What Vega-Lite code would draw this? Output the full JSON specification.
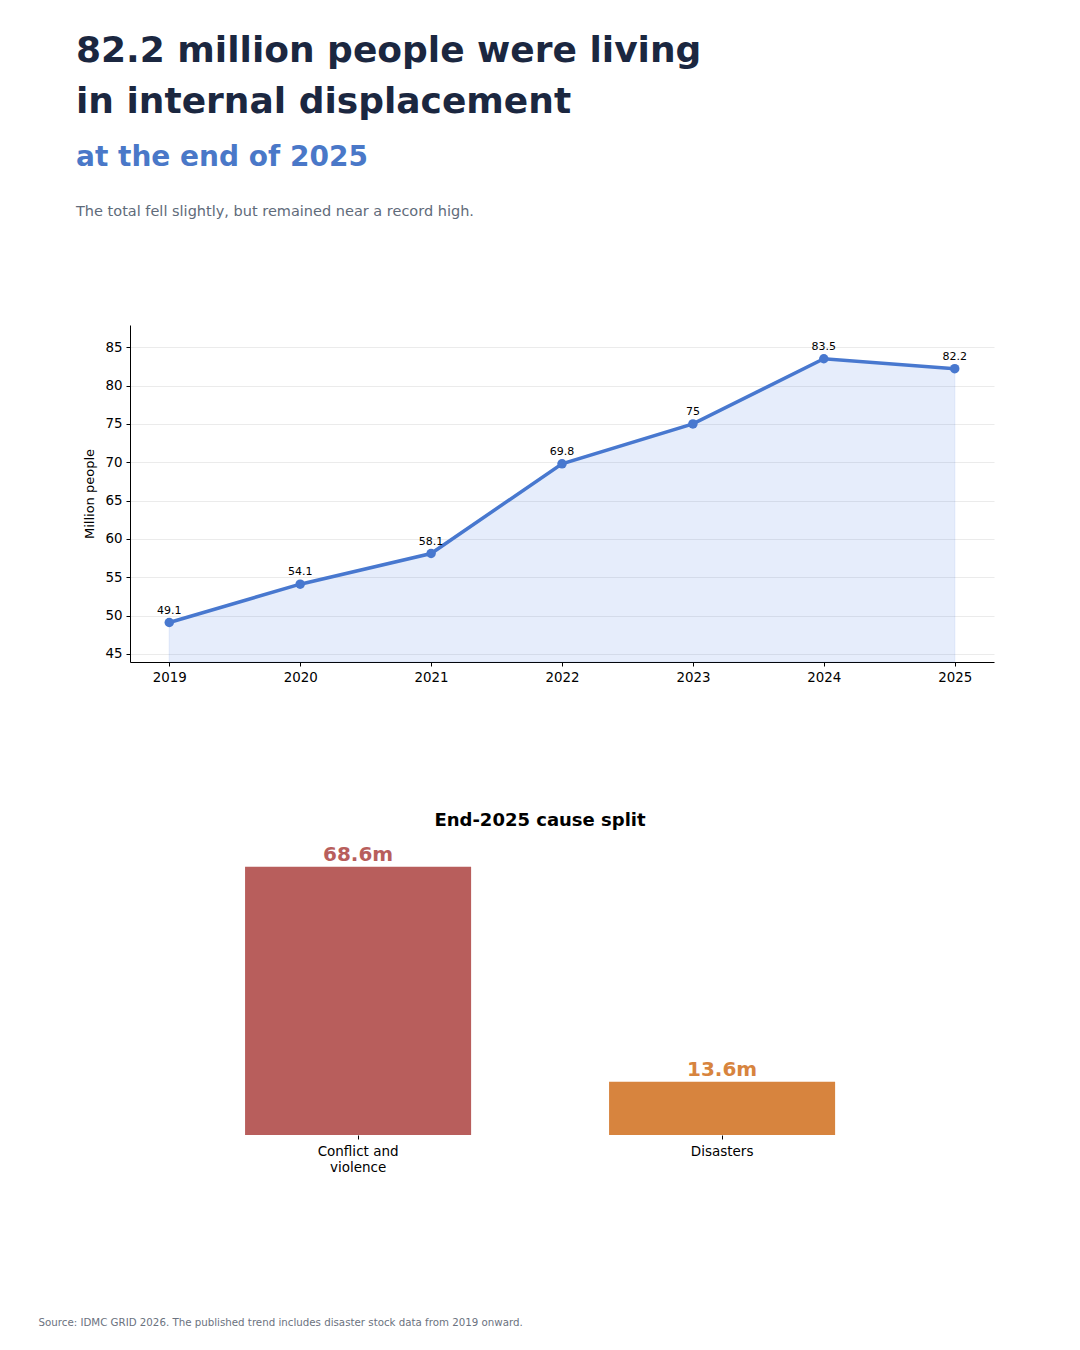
{
  "$schema": "https://vega.github.io/schema/vega-lite/v6.json",
  "background": "white",
  "padding": {"left": 38, "top": 32, "right": 10, "bottom": 20},
  "title": {
    "text": ["82.2 million people were living", "in internal displacement"],
    "subtitle": "at the end of 2025",
    "anchor": "start",
    "frame": "group",
    "dx": -54,
    "font": "DejaVu Sans",
    "fontSize": 36,
    "fontWeight": "bold",
    "color": "#1b2740",
    "lineHeight": 51,
    "subtitleFont": "DejaVu Sans",
    "subtitleFontSize": 28,
    "subtitleFontWeight": "bold",
    "subtitleColor": "#4a78c8",
    "subtitlePadding": 23,
    "offset": 31
  },
  "spacing": 128,
  "vconcat": [
    {
      "width": 864,
      "height": 337,
      "title": {
        "text": "The total fell slightly, but remained near a record high.",
        "anchor": "start",
        "frame": "group",
        "dx": -54,
        "offset": 106,
        "font": "DejaVu Sans",
        "fontSize": 14.5,
        "fontWeight": "normal",
        "color": "#5f6b7a"
      },
      "data": {
        "values": [
          {"year": 2019, "value": 49.1},
          {"year": 2020, "value": 54.1},
          {"year": 2021, "value": 58.1},
          {"year": 2022, "value": 69.8},
          {"year": 2023, "value": 75.0},
          {"year": 2024, "value": 83.5},
          {"year": 2025, "value": 82.2}
        ]
      },
      "encoding": {
        "x": {
          "field": "year",
          "type": "quantitative",
          "scale": {"domain": [2018.7, 2025.3], "nice": false, "zero": false},
          "axis": {
            "title": null,
            "values": [2019, 2020, 2021, 2022, 2023, 2024, 2025],
            "format": "d",
            "grid": false,
            "domainColor": "black",
            "tickColor": "black",
            "tickSize": 4,
            "labelFont": "DejaVu Sans",
            "labelFontSize": 13.4,
            "labelColor": "black",
            "labelPadding": 4
          }
        },
        "y": {
          "field": "value",
          "type": "quantitative",
          "scale": {"domain": [43.95, 87.9], "nice": false, "zero": false},
          "axis": {
            "title": "Million people",
            "titleFont": "DejaVu Sans",
            "titleFontSize": 13,
            "titleFontWeight": "normal",
            "titleColor": "black",
            "titlePadding": 8,
            "values": [45, 50, 55, 60, 65, 70, 75, 80, 85],
            "grid": true,
            "gridColor": "#ebebeb",
            "domainColor": "black",
            "tickColor": "black",
            "tickSize": 4,
            "labelFont": "DejaVu Sans",
            "labelFontSize": 13.4,
            "labelColor": "black",
            "labelPadding": 4
          }
        }
      },
      "layer": [
        {
          "mark": {
            "type": "area",
            "fill": "#2f69de",
            "fillOpacity": 0.12,
            "stroke": "#2f69de",
            "strokeOpacity": 0.08,
            "strokeWidth": 1.5
          },
          "encoding": {"y2": {"datum": 43.95}}
        },
        {
          "mark": {"type": "line", "color": "#4878cf", "strokeWidth": 3.5}
        },
        {
          "mark": {"type": "circle", "color": "#4878cf", "opacity": 1, "size": 90}
        },
        {
          "mark": {
            "type": "text",
            "font": "DejaVu Sans",
            "fontSize": 11,
            "color": "black",
            "baseline": "alphabetic",
            "dy": -9
          },
          "encoding": {"text": {"field": "value", "type": "quantitative", "format": "~r"}}
        }
      ]
    },
    {
      "width": 864,
      "height": 295,
      "title": {
        "text": "End-2025 cause split",
        "anchor": "middle",
        "dx": -22,
        "offset": 10,
        "font": "DejaVu Sans",
        "fontSize": 18,
        "fontWeight": "bold",
        "color": "black"
      },
      "data": {
        "values": [
          {"cause": "Conflict and violence", "value": 68.6, "label": "68.6m"},
          {"cause": "Disasters", "value": 13.6, "label": "13.6m"}
        ]
      },
      "encoding": {
        "x": {
          "field": "cause",
          "type": "nominal",
          "sort": null,
          "scale": {"paddingInner": 0.379, "paddingOuter": 0.3763, "align": 0.42},
          "axis": {
            "title": "Source: IDMC GRID 2026. The published trend includes disaster stock data from 2019 onward.",
            "titleX": -92,
            "titleY": 190,
            "titleAlign": "left",
            "titleAnchor": "start",
            "titleBaseline": "alphabetic",
            "titleFont": "DejaVu Sans",
            "titleFontSize": 10.25,
            "titleFontWeight": "normal",
            "titleColor": "#6b7280",
            "domain": false,
            "tickColor": "black",
            "tickSize": 4,
            "labelAngle": 0,
            "labelFont": "DejaVu Sans",
            "labelFontSize": 13.5,
            "labelColor": "black",
            "labelPadding": 5,
            "labelLineHeight": 16,
            "labelExpr": "datum.label == 'Conflict and violence' ? ['Conflict and', 'violence'] : datum.label"
          }
        },
        "y": {
          "field": "value",
          "type": "quantitative",
          "scale": {"domain": [0, 75.46], "nice": false},
          "axis": null
        },
        "color": {
          "field": "cause",
          "type": "nominal",
          "scale": {"domain": ["Conflict and violence", "Disasters"], "range": ["#b85e5c", "#d7843e"]},
          "legend": null
        }
      },
      "layer": [
        {"mark": {"type": "bar"}},
        {
          "mark": {
            "type": "text",
            "font": "DejaVu Sans",
            "fontSize": 20,
            "fontWeight": "bold",
            "baseline": "alphabetic",
            "dy": -6
          },
          "encoding": {"text": {"field": "label", "type": "nominal"}}
        }
      ]
    }
  ],
  "config": {
    "view": {"stroke": null},
    "font": "DejaVu Sans"
  }
}
